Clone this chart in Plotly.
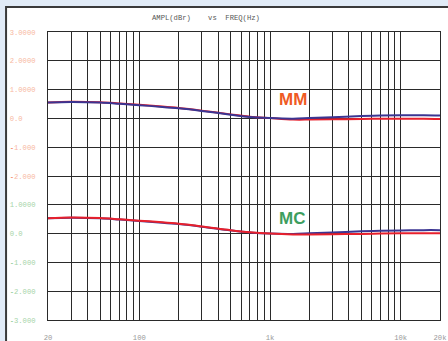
import math
import plotly.graph_objects as go

# Frequency points (Hz) for the response curves
freq = [20, 30, 50, 70, 100, 150, 200, 300, 500, 700, 1000, 1500, 2000, 3000, 5000, 7000, 10000, 15000, 20000]

# MM stage response, dBr (left / right channel)
mm_red = [0.55, 0.58, 0.56, 0.52, 0.47, 0.41, 0.36, 0.27, 0.14, 0.06, 0.01, -0.04, -0.04, -0.03, -0.02, -0.01, -0.01, -0.01, -0.02]
mm_blue = [0.55, 0.57, 0.55, 0.51, 0.46, 0.40, 0.35, 0.26, 0.13, 0.05, 0.01, -0.01, 0.01, 0.04, 0.08, 0.10, 0.11, 0.11, 0.10]

# MC stage response, dBr (left / right channel)
mc_red = [0.53, 0.56, 0.54, 0.50, 0.45, 0.39, 0.34, 0.25, 0.12, 0.05, 0.00, -0.03, -0.03, -0.02, -0.01, 0.00, 0.01, 0.01, 0.01]
mc_blue = [0.53, 0.55, 0.53, 0.49, 0.44, 0.38, 0.33, 0.24, 0.11, 0.04, 0.00, -0.01, 0.01, 0.04, 0.08, 0.10, 0.11, 0.12, 0.12]

# The MC plot sits four divisions below the MM plot on a shared grid
mc_offset = -4

# Grid frequencies and x tick labels
grid_freqs = [20, 30, 40, 50, 60, 70, 80, 90,
              100, 200, 300, 400, 500, 600, 700, 800, 900,
              1000, 2000, 3000, 4000, 5000, 6000, 7000, 8000, 9000,
              10000, 20000]
x_labels = {20: "20", 100: "100", 1000: "1k", 10000: "10k", 20000: "20k"}

# Y grid positions and labels (upper block MM, lower block MC)
y_vals = [3, 2, 1, 0, -1, -2, -3, -4, -5, -6, -7]
y_text = ["3.0000", "2.0000", "1.0000", "0.0", "-1.000", "-2.000",
          "1.0000", "0.0", "-1.000", "-2.000", "-3.000"]

MM_LABEL = "#f7b8a2"
MM_MINUS = "#ef5a28"
MC_LABEL = "#a6d4a8"
MC_MINUS = "#5fb870"


def style_label(txt, upper):
    base = MM_LABEL if upper else MC_LABEL
    minus = MM_MINUS if upper else MC_MINUS
    # left-align in a fixed six-character column
    pad = "\u00a0" * (6 - len(txt))
    if txt.startswith("-"):
        return (f"<span style='color:{minus}'>-</span>"
                f"<span style='color:{base}'>{txt[1:]}{pad}</span>")
    return f"<span style='color:{base}'>{txt}{pad}</span>"


y_ticktext = [style_label(t, i < 6) for i, t in enumerate(y_text)]

fig = go.Figure()

RED = "#e8202c"
BLUE = "#3b3592"

fig.add_trace(go.Scatter(x=freq, y=mm_red, mode="lines", line=dict(color=RED, width=2, shape="spline"),
                         hoverinfo="skip"))
fig.add_trace(go.Scatter(x=freq, y=mm_blue, mode="lines", line=dict(color=BLUE, width=2, shape="spline"),
                         hoverinfo="skip"))
fig.add_trace(go.Scatter(x=freq, y=[v + mc_offset for v in mc_blue], mode="lines",
                         line=dict(color=BLUE, width=2, shape="spline"), hoverinfo="skip"))
fig.add_trace(go.Scatter(x=freq, y=[v + mc_offset for v in mc_red], mode="lines",
                         line=dict(color=RED, width=2, shape="spline"), hoverinfo="skip"))

mono = "Liberation Mono"
GRID = "#2a2a2a"

fig.update_xaxes(
    type="log",
    range=[math.log10(20), math.log10(20000)],
    tickmode="array",
    tickvals=grid_freqs,
    ticktext=[x_labels.get(f, "") for f in grid_freqs],
    showgrid=True, gridcolor=GRID, gridwidth=1,
    zeroline=False, showline=True, mirror=True, linecolor=GRID, linewidth=1,
    ticks="outside", ticklen=10, tickcolor="rgba(0,0,0,0)",
    tickfont=dict(family=mono, size=7.2, color="#9a9a9a"),
    automargin=False,
)
fig.update_yaxes(
    range=[-7, 3],
    tickmode="array",
    tickvals=y_vals,
    ticktext=y_ticktext,
    showgrid=True, gridcolor=GRID, gridwidth=1,
    zeroline=False, showline=True, mirror=True, linecolor=GRID, linewidth=1,
    ticks="outside", ticklen=10, tickcolor="rgba(0,0,0,0)",
    tickfont=dict(family=mono, size=7.2),
    automargin=False,
)

# White panel with dark border behind the chart
fig.add_shape(type="rect", xref="paper", yref="paper",
              x0=-0.107, x1=1.03, y0=-0.1, y1=1.087,
              fillcolor="white", line=dict(color="#3a3a3a", width=2), layer="below")

fig.add_annotation(text="AMPL(dBr)\u00a0\u00a0\u00a0\u00a0vs\u00a0\u00a0FREQ(Hz)",
                   xref="paper", yref="paper", x=0.402, y=1.05,
                   xanchor="center", yanchor="middle", showarrow=False,
                   font=dict(family=mono, size=7.2, color="#555555"))

fig.add_annotation(text="<b>MM</b>", xref="x", yref="y", x=math.log10(1500), y=0.66,
                   showarrow=False, xanchor="center", yanchor="middle",
                   font=dict(family="Liberation Sans", size=17, color="#ef5a24"))
fig.add_annotation(text="<b>MC</b>", xref="x", yref="y", x=math.log10(1480), y=-3.48,
                   showarrow=False, xanchor="center", yanchor="middle",
                   font=dict(family="Liberation Sans", size=17, color="#3d9e5e"))

fig.update_layout(
    width=448, height=341,
    margin=dict(l=48, r=8, t=32, b=21, autoexpand=False),
    paper_bgcolor="#e1ebf7",
    plot_bgcolor="rgba(0,0,0,0)",
    showlegend=False,
)

fig.write_html("out.html")
